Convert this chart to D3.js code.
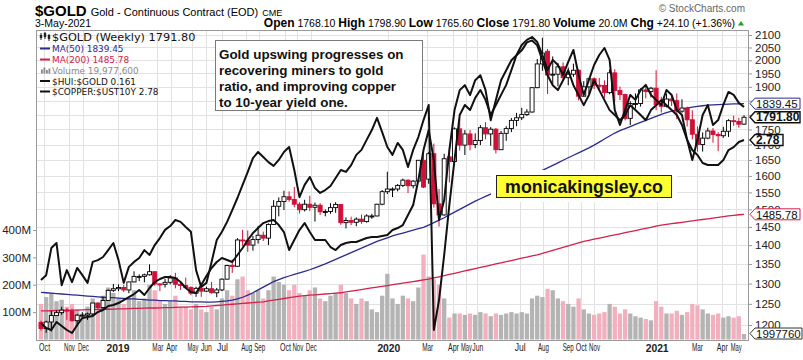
<!DOCTYPE html>
<html><head><meta charset="utf-8">
<script src="https://cdn.jsdelivr.net/npm/d3@7"></script>
<style>
body{margin:0;background:#fff}
svg{display:block}
text{font-family:"Liberation Sans",Arial,sans-serif}
.lg{font-family:"DejaVu Sans",Verdana,sans-serif}
</style>
</head><body>
<svg id="c" width="803" height="360"></svg>
<script>
// ---------- DATA (weekly, 24-Sep-2018 .. 3-May-2021) ----------
const opens=[1206,1192,1207,1222,1229,1235,1233,1210,1223,1223,
1226,1252,1241,1258,1283,1287,1290,1284,1304,1318,
1318,1322,1330,1299,1298,1303,1314,1298,1295,1290,
1276,1288,1281,1287,1277,1284,1311,1346,1344,1414,
1413,1400,1415,1427,1419,1457,1509,1523,1537,1529,
1515,1499,1515,1506,1512,1493,1494,1505,1514,1462,
1468,1463,1472,1465,1481,1481,1515,1552,1560,1560,
1571,1587,1570,1584,1649,1590,1670,1516,1484,1660,
1645,1752,1698,1735,1700,1713,1756,1735,1751,1683,
1737,1753,1781,1790,1801,1810,1897,1986,2035,1944,
1947,1975,1934,1947,1962,1866,1900,1930,1906,1905,
1879,1952,1887,1872,1788,1840,1840,1889,1883,1895,
1836,1830,1856,1850,1813,1824,1783,1734,1700,1721,
1745,1733,1729,1744,1780,1777,1768.1];
const highs=[1210,1210,1233,1234,1243,1240,1238,1226,1230,1229,
1252,1254,1267,1285,1299,1298,1296,1305,1331,1323,
1325,1349,1331,1301,1312,1321,1327,1302,1315,1293,
1292,1290,1292,1304,1289,1313,1348,1362,1419,1442,
1440,1425,1453,1437,1460,1527,1535,1555,1553,1566,
1521,1528,1540,1520,1518,1500,1518,1521,1515,1477,
1479,1477,1485,1486,1487,1516,1557,1613,1565,1575,
1592,1589,1587,1649,1691,1676,1703,1560,1670,1692,
1757,1788,1748,1748,1737,1765,1775,1758,1755,1745,
1761,1789,1807,1825,1820,1898,2005,2089,2044,2015,
1990,1992,1972,1987,1965,1921,1933,1935,1933,1924,
1965,1966,1901,1875,1848,1876,1895,1908,1900,1962,
1864,1876,1875,1876,1855,1829,1816,1760,1740,1756,
1755,1741,1759,1785,1797,1790,1798.9];
const lows=[1187,1182,1185,1222,1224,1212,1208,1197,1220,1212,
1222,1238,1238,1257,1279,1281,1279,1276,1303,1306,
1303,1320,1294,1281,1290,1298,1288,1284,1288,1271,
1267,1267,1279,1275,1266,1281,1310,1327,1342,1398,
1382,1385,1404,1411,1400,1456,1480,1498,1522,1506,
1488,1494,1495,1465,1484,1480,1487,1490,1456,1446,
1455,1452,1459,1462,1473,1480,1512,1545,1536,1553,
1566,1548,1562,1582,1563,1576,1505,1451,1482,1580,
1640,1680,1666,1681,1688,1698,1717,1696,1671,1682,
1712,1741,1761,1782,1796,1808,1895,1960,1874,1911,
1902,1923,1906,1937,1851,1865,1875,1892,1892,1860,
1873,1848,1852,1781,1765,1822,1829,1858,1862,1816,
1808,1826,1831,1785,1807,1760,1717,1677,1677,1717,
1706,1678,1722,1725,1762,1756,1765.6];
const closes=[1192,1207,1222,1229,1235,1233,1210,1223,1223,1226,
1252,1241,1258,1283,1287,1290,1284,1304,1318,1318,
1322,1330,1299,1298,1303,1314,1298,1295,1290,1276,
1288,1281,1287,1277,1284,1311,1346,1344,1414,1413,
1400,1415,1427,1419,1457,1509,1523,1537,1529,1515,
1499,1515,1506,1512,1493,1494,1505,1514,1462,1468,
1463,1472,1465,1481,1481,1515,1552,1560,1560,1571,
1587,1570,1584,1649,1566,1670,1516,1484,1654,1645,
1752,1698,1735,1700,1713,1756,1735,1751,1683,1737,
1753,1781,1790,1801,1810,1897,1986,2028,1944,1947,
1975,1934,1947,1962,1866,1900,1930,1906,1905,1879,
1952,1887,1872,1788,1840,1840,1889,1883,1895,1836,
1830,1856,1850,1813,1824,1783,1734,1700,1721,1745,
1733,1729,1744,1780,1777,1768,1791.8];
const volumesM=[130,155,170,140,145,120,130,110,95,120,
150,130,160,190,170,150,130,150,180,140,
150,200,180,140,130,140,160,120,120,110,
130,110,100,120,110,150,180,160,220,230,
180,170,180,150,180,230,210,200,180,200,
170,160,180,190,150,140,160,170,200,170,
150,130,150,140,110,100,160,240,150,130,
160,150,140,190,310,230,220,200,150,80,
95,95,90,95,90,100,95,85,95,90,
95,100,95,100,95,150,160,155,185,180,
150,140,130,120,150,110,95,90,95,100,
130,120,95,110,95,85,80,75,70,140,
120,95,95,105,90,100,130,125,110,95,
90,95,80,85,80,85,20];
const ma50=[1278,1277,1276,1275,1274,1273,1272,1271,1270,1269,
1268,1267,1266,1265,1265,1264,1263,1262,1262,1261,
1260,1259,1259,1258,1258,1257,1257,1256,1256,1255,
1255,1255,1254,1254,1255,1256,1257,1259,1262,1266,
1271,1277,1284,1291,1298,1305,1310,1315,1319,1323,
1327,1331,1335,1340,1345,1350,1356,1362,1368,1374,
1380,1386,1392,1398,1404,1410,1415,1420,1425,1429,
1433,1437,1441,1445,1449,1455,1462,1469,1476,1484,
1492,1500,1508,1516,1524,1531,1538,1545,1552,1559,
1566,1573,1580,1587,1594,1601,1609,1617,1625,1633,
1641,1649,1657,1665,1673,1681,1689,1698,1708,1718,
1728,1738,1746,1753,1760,1767,1774,1781,1788,1795,
1802,1808,1813,1817,1821,1824,1827,1830,1832,1834,
1835,1836,1837,1838,1838.5,1839,1839.45];
const ma200=[1233,1233,1233.5,1234,1234,1234.5,1235,1235,1235.5,1236,
1236,1236.5,1237,1237,1237.5,1238,1238,1238.5,1239,1239,
1239.5,1240,1240,1240.5,1241,1241,1241.5,1242,1242,1242.5,
1243,1243.5,1244,1245,1246,1247,1248,1249,1250,1251,
1252,1253,1254,1255,1257,1259,1261,1263,1265,1267,
1269,1270,1271,1272,1273,1274,1275,1276,1277,1279,
1281,1283,1285,1287,1289,1291,1293,1295,1297,1299,
1301,1303,1305,1307,1309,1311,1314,1317,1320,1323,
1326,1329,1332,1335,1338,1341,1344,1347,1350,1353,
1356,1359,1362,1365,1368,1371,1374,1378,1382,1386,
1390,1394,1398,1402,1406,1410,1413,1416,1419,1422,
1425,1428,1431,1434,1437,1440,1443,1446,1449,1452,
1455,1457,1459,1461,1463,1465,1467,1469,1471,1473,
1475,1477,1479,1481,1483,1484.5,1485.78];
const huiGold=[0.1014,0.1027,0.1104,0.1119,0.1000,0.1041,0.1008,0.1047,0.1027,0.1006,
0.1064,0.1069,0.1078,0.1098,0.1119,0.1069,0.1006,0.1050,0.1064,0.1075,
0.1098,0.1084,0.1113,0.1134,0.1159,0.1171,0.1190,0.1184,0.1168,0.1153,
0.1041,0.0995,0.1006,0.1064,0.1128,0.1153,0.1184,0.1222,0.1262,0.1307,
0.1353,0.1404,0.1427,0.1408,0.1389,0.1375,0.1397,0.1427,0.1446,0.1360,
0.1265,0.1307,0.1335,0.1296,0.1279,0.1289,0.1303,0.1331,0.1360,0.1353,
0.1378,0.1416,0.1435,0.1474,0.1513,0.1563,0.1505,0.1446,0.1416,0.1462,
0.1435,0.1371,0.1435,0.1485,0.1554,0.1618,0.0887,0.0961,0.1084,0.1239,
0.1397,0.1575,0.1618,0.1596,0.1649,0.1684,0.1640,0.1575,0.1618,0.1662,
0.1707,0.1776,0.1849,0.1899,0.1925,0.1940,0.1914,0.1849,0.1776,0.1825,
0.1800,0.1753,0.1815,0.1874,0.1753,0.1662,0.1730,0.1800,0.1849,0.1884,
0.1825,0.1596,0.1534,0.1596,0.1662,0.1640,0.1684,0.1707,0.1662,0.1640,
0.1618,0.1684,0.1662,0.1596,0.1575,0.1474,0.1397,0.1474,0.1575,0.1618,
0.1534,0.1554,0.1618,0.1675,0.1662,0.1627,0.1609];
const copperUst10y=[0.8836,0.8564,0.8457,0.8892,0.8672,0.8457,0.8300,0.8727,0.9117,0.9174,
0.9232,0.9466,0.9585,0.9827,0.9889,1.0014,1.0203,1.0397,1.0595,1.0865,
1.0529,1.1002,1.1423,1.1640,1.1786,1.1786,1.1713,1.1423,1.1002,1.0729,
1.0662,1.1211,1.1860,1.2470,1.2947,1.3275,1.3110,1.2947,1.3527,1.4134,
1.4860,1.5524,1.6016,1.6524,1.6731,1.6836,1.6319,1.5621,1.3958,1.4860,
1.5817,1.6524,1.5621,1.4860,1.4860,1.4860,1.4223,1.3958,1.4402,1.4583,
1.4675,1.4675,1.4860,1.5046,1.5141,1.5141,1.5235,1.5331,1.5817,1.6016,
1.6319,1.7372,1.8497,2.1633,2.6109,2.9588,2.4516,1.6836,1.9083,2.6109,
3.3530,3.7993,3.9196,3.6825,4.0438,4.1717,3.7993,3.1478,3.5692,4.0438,
4.3037,4.5806,4.7256,4.8753,5.1237,5.1879,5.0294,4.5806,4.1717,3.9196,
3.7993,4.0438,4.3037,3.9196,3.6825,3.4583,3.6825,4.0438,3.7993,3.5692,
3.3530,3.2504,3.1478,3.2504,3.4583,3.3530,3.2504,3.1478,3.3530,3.4583,
3.5692,3.4583,3.3530,3.2504,3.0538,2.7802,2.6109,2.5310,2.4064,2.3766,
2.3766,2.3766,2.4516,2.6109,2.6587,2.7455,2.78];
const priceTicks=[1200,1250,1300,1350,1400,1450,1500,1550,1600,1650,1700,1750,1800,1850,1900,1950,2000,2050,2100];
const priceTickLabelsShown=[1200,1250,1300,1350,1400,1450,1500,1550,1600,1650,1700,1750,1900,1950,2000,2050,2100];
const volumeTicks=[100,200,300,400];
const xTickLabels=["Oct","Nov","Dec","2019","Mar","Apr","May","Jun","Jul","Aug","Sep","Oct","Nov","Dec","2020","Mar","Apr","May","Jun","Jul","Aug","Sep","Oct","Nov","2021","Mar","Apr","May"];
const xTickWeeks=[0.6,5.4,8.1,14.8,22.5,25.2,29.3,31.9,35.0,39.7,42.2,47.2,49.6,52.2,67.2,74.7,79.7,82.2,84.4,92.6,97.1,101.9,104.4,107.0,119.1,126.9,131.7,134.4];
const noteLines=["Gold upswing progresses on","recovering miners to gold","ratio, and improving copper","to 10-year yield one."];
const watermark="monicakingsley.co";

// ---------- DRAW ----------
const svg=d3.select("#c");
const L=36,R=749,T=30,B=340;
const n=closes.length;
const idx=d3.range(n);
const RED="#d01038", BLUE="#2a2a90", MRED="#d4204c";
const x=d3.scaleLinear().domain([0,n-1]).range([41,744]);
const y=d3.scaleLog().domain([1200,2100]).range([325,35]);
const yv=d3.scaleLinear().domain([0,400]).range([339.5,230]);
const yh=d3.scaleLog().domain([0.088,0.194]).range([333,37]);
const yc=d3.scaleLog().domain([0.83,5.3]).range([333,37]);
const px=v=>Math.round(v)+0.5;

svg.append("rect").attr("width",803).attr("height",360).attr("fill","#fff");
svg.append("defs").append("clipPath").attr("id","pc").append("rect")
  .attr("x",L).attr("y",T).attr("width",R-L).attr("height",B-T);
const g=svg.append("g").attr("clip-path","url(#pc)");

// grid
g.selectAll(".hg").data(priceTicks).join("line")
  .attr("x1",L).attr("x2",R).attr("y1",d=>px(y(d))).attr("y2",d=>px(y(d)))
  .attr("stroke","#e2e2e2").attr("stroke-width",1);
g.selectAll(".vg").data(xTickWeeks).join("line")
  .attr("y1",T).attr("y2",B).attr("x1",d=>px(x(d))).attr("x2",d=>px(x(d)))
  .attr("stroke","#e2e2e2").attr("stroke-width",1);

const down=i=> i===0 ? closes[0]<opens[0] : closes[i]<closes[i-1];

// volume
g.selectAll(".vol").data(idx).join("rect")
  .attr("x",i=>x(i)-2.15).attr("width",4.3)
  .attr("y",i=>yv(volumesM[i])).attr("height",i=>yv(0)-yv(volumesM[i]))
  .attr("fill",i=>down(i)?"#f2b0bf":"#b4b4b4");

// moving averages
const line=(arr,sc)=>d3.line().x((d,i)=>x(i)).y(d=>sc(d))(arr);
g.append("path").attr("d",line(ma200,y)).attr("fill","none").attr("stroke",MRED).attr("stroke-width",1.3);
g.append("path").attr("d",line(ma50,y)).attr("fill","none").attr("stroke",BLUE).attr("stroke-width",1.3);

// candles
const cg=g.append("g");
idx.forEach(i=>{
  const col=down(i)?RED:"#000";
  const filled=closes[i]<opens[i];
  cg.append("line").attr("x1",x(i)).attr("x2",x(i)).attr("y1",y(highs[i])).attr("y2",y(lows[i]))
    .attr("stroke",col).attr("stroke-width",1);
  const top=y(Math.max(opens[i],closes[i])), bot=y(Math.min(opens[i],closes[i]));
  cg.append("rect").attr("x",x(i)-2).attr("width",4).attr("y",top).attr("height",Math.max(bot-top,1))
    .attr("fill",filled?col:"#fff").attr("stroke",col).attr("stroke-width",0.9);
});

// ratio overlays
g.append("path").attr("d",line(copperUst10y,yc)).attr("fill","none").attr("stroke","#111").attr("stroke-width",2).attr("stroke-linejoin","round");
g.append("path").attr("d",line(huiGold,yh)).attr("fill","none").attr("stroke","#111").attr("stroke-width",2).attr("stroke-linejoin","round");

// note box
svg.append("rect").attr("x",215.5).attr("y",40.5).attr("width",207).attr("height",70)
  .attr("fill","#fff").attr("stroke","#7a7a7a").attr("stroke-width",1);
svg.selectAll(".note").data(noteLines).join("text")
  .attr("x",219).attr("y",(d,i)=>58.5+i*16).attr("font-size",13.4).attr("font-weight","bold")
  .attr("fill","#111").text(d=>d);

// watermark box
svg.append("rect").attr("x",491).attr("y",170).attr("width",186).attr("height",32).attr("fill","#fff");
svg.append("rect").attr("x",496.5).attr("y",175.5).attr("width",175).attr("height",22)
  .attr("fill","#ffff33").attr("stroke","#222").attr("stroke-width",1);
svg.append("text").attr("x",584).attr("y",193).attr("text-anchor","middle")
  .attr("font-size",17.8).attr("font-weight","bold").attr("fill","#111").text(watermark);

// frame
svg.append("rect").attr("x",L+0.5).attr("y",T+0.5).attr("width",R-L-1).attr("height",B-T)
  .attr("fill","none").attr("stroke","#9a9a9a");

// price axis (right)
const ay=svg.append("g").attr("transform",`translate(${R},0)`)
  .call(d3.axisRight(y).tickValues(priceTicks).tickFormat(d=>priceTickLabelsShown.includes(d)?d3.format("d")(d):"").tickSize(3).tickPadding(3));
ay.select(".domain").remove();
ay.selectAll("text").attr("font-size",11.5).attr("fill","#222").attr("font-family","Liberation Sans, Arial");
ay.selectAll("line").attr("stroke","#999");

// volume axis (left)
const av=svg.append("g").attr("transform",`translate(${L},0)`)
  .call(d3.axisLeft(yv).tickValues(volumeTicks).tickFormat(d=>d+"M").tickSize(3).tickPadding(2));
av.select(".domain").remove();
av.selectAll("text").attr("font-size",11.5).attr("fill","#222").attr("font-family","Liberation Sans, Arial");
av.selectAll("line").attr("stroke","#999");

// x axis (labels horizontally condensed like the reference)
const isYear=i=>/^\d{4}$/.test(xTickLabels[i]);
const ax=svg.append("g").attr("transform",`translate(0,${B})`)
  .call(d3.axisBottom(x).tickValues(xTickWeeks).tickFormat((d,i)=>xTickLabels[i]).tickSize(0).tickPadding(4));
ax.select(".domain").remove();
ax.selectAll("text").attr("font-family","Liberation Sans, Arial").attr("fill","#222")
  .attr("font-size",(d,i)=>isYear(i)?11:10.5)
  .attr("font-weight",(d,i)=>isYear(i)?"bold":"normal")
  .each(function(d,i){
    const target=isYear(i)?23:11;
    const len=this.getComputedTextLength();
    const s=Math.min(1,target/len);
    d3.select(this).attr("transform",`scale(${s},1)`);
  });

// value tags on right
function tag(yy,label,stroke,bold,w){
  const gg=svg.append("g");
  const h=11, x0=R+1;
  gg.append("path").attr("d",`M${x0},${yy} L${x0+5},${yy-h/2} L${x0+w},${yy-h/2} L${x0+w},${yy+h/2} L${x0+5},${yy+h/2} Z`)
    .attr("fill","#fff").attr("stroke",stroke).attr("stroke-width",bold?1.4:1);
  gg.append("text").attr("x",x0+6).attr("y",yy+4.2).attr("font-size",bold?12:11.5)
    .attr("font-weight",bold?"bold":"normal").attr("fill","#111").text(label);
}
tag(y(ma50[n-1]),"1839.45",BLUE,false,50);
tag(y(closes[n-1]),"1791.80","#111",true,50);
tag(yc(copperUst10y[n-1]),"2.78","#111",true,33);
tag(y(ma200[n-1]),"1485.78",MRED,false,50);
tag(yv(volumesM[n-1])-0.5,"1997760","#333",false,52);

// legend
const lg=svg.append("g");
lg.append("text").attr("class","lg").attr("x",52).attr("y",41).attr("font-size",11.3).attr("fill","#111").text("$GOLD (Weekly) 1791.80");
[[41,33,40,35,38],[45,32,39,33,37],[49,34,41,35,39]].forEach(c=>{
  lg.append("line").attr("x1",c[0]).attr("x2",c[0]).attr("y1",c[1]).attr("y2",c[2]).attr("stroke","#222");
  lg.append("rect").attr("x",c[0]-1.2).attr("width",2.4).attr("y",c[3]).attr("height",c[4]-c[3]).attr("fill","#222");
});
const legendItems=[
  {t:"MA(50) 1839.45",c:BLUE,y:52},
  {t:"MA(200) 1485.78",c:MRED,y:63},
  {t:"Volume 19,977,600",c:"#8a8a8a",y:73.5,vol:true},
  {t:"$HUI:$GOLD 0.161",c:"#111",y:84.5},
  {t:"$COPPER:$UST10Y 2.78",c:"#111",y:95}
];
legendItems.forEach(it=>{
  if(it.vol){
    [[41,4],[43.5,6],[46,3.5],[48.5,5]].forEach(b=>lg.append("rect").attr("x",b[0]).attr("width",1.8).attr("y",it.y-b[1]).attr("height",b[1]).attr("fill","#8a8a8a"));
  } else {
    lg.append("line").attr("x1",40).attr("x2",50).attr("y1",it.y-3.5).attr("y2",it.y-3.5).attr("stroke",it.c).attr("stroke-width",2);
  }
  lg.append("text").attr("class","lg").attr("x",52).attr("y",it.y).attr("font-size",8.9).attr("fill",it.c).text(it.t);
});

// header
const hd=svg.append("g");
const h1=hd.append("text").attr("x",35).attr("y",15.5);
h1.append("tspan").attr("font-size",15).attr("font-weight","bold").text("$GOLD");
h1.append("tspan").attr("font-size",11).attr("dx",4).text("Gold - Continuous Contract (EOD)");
h1.append("tspan").attr("font-size",9).attr("dx",4).text("CME");
hd.append("text").attr("x",35).attr("y",27).attr("font-size",10.5).text("3-May-2021");
const h2=hd.append("text").attr("x",735).attr("y",27).attr("text-anchor","end");
[["Open"," 1768.10 "],["High"," 1798.90 "],["Low"," 1765.60 "],["Close"," 1791.80 "],["Volume"," 20.0M "],["Chg"," +24.10 (+1.36%)"]].forEach(p=>{
  h2.append("tspan").attr("font-size",12).attr("font-weight","bold").text(p[0]);
  h2.append("tspan").attr("font-size",10.5).text(p[1]);
});
hd.append("path").attr("d","M738,25.5 L741,21 L744,25.5 Z").attr("fill","#2a9a2a");
hd.append("text").attr("x",745).attr("y",11.5).attr("text-anchor","end").attr("font-size",10).attr("fill","#666").text("\u00A9 StockCharts.com");
</script>
</body></html>
